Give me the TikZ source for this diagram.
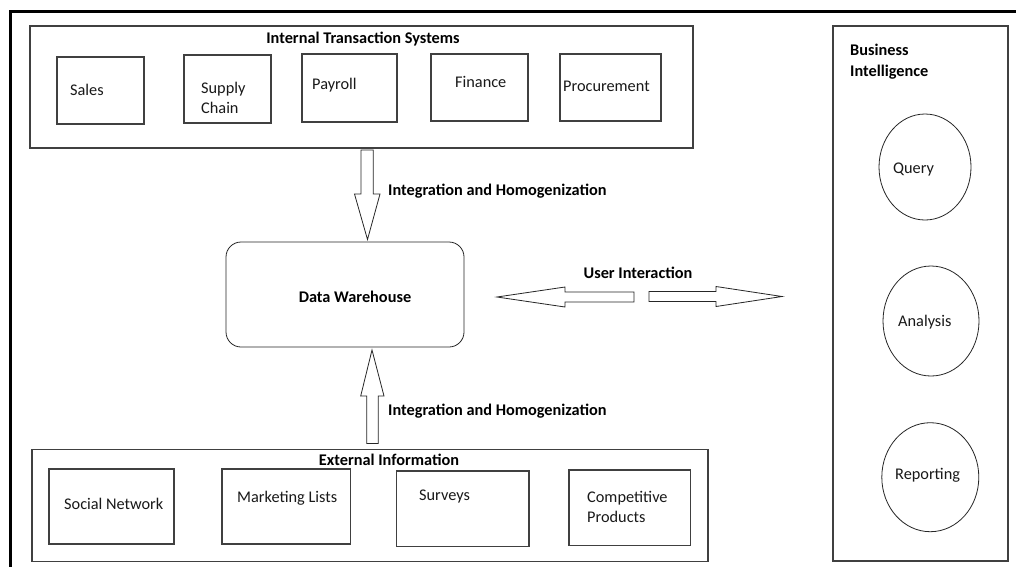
\documentclass[tikz,border=0pt]{standalone}
\usepackage{fontspec}
\setmainfont{Carlito}
\usetikzlibrary{shapes.geometric}
\definecolor{edge}{HTML}{404040}
\begin{document}
\begin{tikzpicture}[x=1pt,y=-1pt,
  box/.style={draw=edge,line width=1.2pt,rectangle,inner sep=0pt},
  oval/.style={draw=black!85,line width=0.8pt,ellipse,inner sep=0pt},
  txt/.style={inner sep=0pt,anchor=west,align=left,font=\fontsize{16.3}{20}\selectfont,text=black!90,yshift=-1.5pt},
  ttl/.style={inner sep=0pt,font=\fontsize{16.3}{20}\selectfont\bfseries,text=black,yshift=-1.5pt},
  blockarrow/.style={draw=black!85,line width=0.8pt,fill=white}]
\useasboundingbox (0,0) rectangle (1016,566);
\fill[white] (0,0) rectangle (1016,566);
% outer frame
\draw[line width=3pt,line cap=rect] (10,566) -- (10,11) -- (1016,11);
% Internal transaction systems
\node[box,minimum width=663pt,minimum height=122pt] (its) at (361.5,87) {};
\node[ttl] (itsT) at (363,38) {Internal Transaction Systems};
\node[box,minimum width=87pt,minimum height=67pt] (sales) at (100.5,90.5) {};
\node[txt] at (70,88) {Sales};
\node[box,minimum width=87pt,minimum height=68pt] (supply) at (227.5,89) {};
\node[txt] at (201,96.5) {Supply\\Chain};
\node[box,minimum width=95pt,minimum height=68pt] (payroll) at (349.5,88) {};
\node[txt] at (312,84) {Payroll};
\node[box,minimum width=97pt,minimum height=67pt] (finance) at (479.5,87.5) {};
\node[txt] at (455,80) {Finance};
\node[box,minimum width=101pt,minimum height=67pt] (proc) at (610.5,87.5) {};
\node[txt] at (563,85) {Procurement};
% data warehouse
\node[draw=black!85,line width=0.8pt,rounded corners=15pt,minimum width=238pt,minimum height=105pt,inner sep=0pt] (dw) at (345,294.5) {};
\node[ttl] at (355,295) {Data Warehouse};
% down arrow
\draw[blockarrow] (361,150) -- (373.3,150) -- (373.3,194) -- (380,194) -- (367.5,239.5) -- (354.5,194) -- (361,194) -- cycle;
\node[ttl,anchor=west] at (388,190) {Integration and Homogenization};
% up arrow
\draw[blockarrow] (366.7,443.5) -- (378.3,443.5) -- (378.3,396) -- (384,396) -- (372,350) -- (360.7,396) -- (366.7,396) -- cycle;
\node[ttl,anchor=west] at (388,410) {Integration and Homogenization};
% user interaction arrows
\draw[blockarrow] (634,292) -- (634,302) -- (565,302) -- (565,307) -- (497,297) -- (565,287) -- (565,292) -- cycle;
\draw[blockarrow] (649,291.5) -- (649,301.5) -- (716,301.5) -- (716,306.5) -- (782,296.5) -- (716,286.5) -- (716,291.5) -- cycle;
\node[ttl] at (638,271) {User Interaction};
% external information
\node[box,minimum width=676pt,minimum height=112.5pt] (ext) at (370,505.5) {};
\node[ttl] at (389,458) {External Information};
\node[box,minimum width=125pt,minimum height=75pt] (social) at (111.5,506.5) {};
\node[txt] at (64,502) {Social Network};
\node[box,minimum width=128.7pt,minimum height=75pt] (mkt) at (286.3,506.5) {};
\node[txt] at (237,497) {Marketing Lists};
\node[box,minimum width=132.3pt,minimum height=75.7pt] (surv) at (462.8,508.8) {};
\node[txt] at (419,495) {Surveys};
\node[box,minimum width=121.7pt,minimum height=75.7pt] (comp) at (629.8,507.8) {};
\node[txt] at (587,505) {Competitive\\Products};
% business intelligence
\node[box,minimum width=175pt,minimum height=535pt] (bi) at (920.5,293.5) {};
\node[txt,font=\fontsize{16.3}{21}\selectfont\bfseries,text=black] at (850,60.5) {Business\\Intelligence};
\node[oval,minimum width=92pt,minimum height=106pt] (query) at (925,167) {};
\node[txt] at (893,168) {Query};
\node[oval,minimum width=96pt,minimum height=110pt] (analysis) at (931,321) {};
\node[txt] at (898,321) {Analysis};
\node[oval,minimum width=97pt,minimum height=109pt] (reporting) at (930.3,477.2) {};
\node[txt] at (895,474) {Reporting};
\end{tikzpicture}
\end{document}
